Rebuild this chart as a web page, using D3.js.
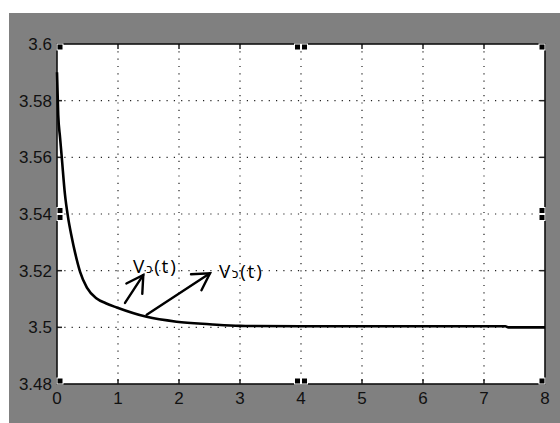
<!DOCTYPE html>
<html>
<head>
<meta charset="utf-8">
<script src="https://cdn.jsdelivr.net/npm/d3@7"></script>
<style>
  html, body { margin: 0; padding: 0; background: #ffffff; }
  svg { display: block; }
</style>
</head>
<body>
<svg id="chart" width="560" height="423"></svg>
<script>
// Voltage response V(t) settling to 3.5 V
const timeSec = [0, 0.02, 0.05, 0.08, 0.13, 0.18, 0.24, 0.30, 0.38, 0.49, 0.65, 0.80, 0.98, 1.47, 1.96, 2.5, 3.0, 4.0, 5.0, 6.0, 7.0, 7.35, 7.4, 8.0];
const voltage = [3.590, 3.575, 3.567, 3.5595, 3.547, 3.539, 3.532, 3.526, 3.5195, 3.5140, 3.5102, 3.5085, 3.5070, 3.5037, 3.502, 3.5011, 3.5005, 3.5004, 3.5004, 3.5004, 3.5004, 3.5004, 3.5, 3.5];

const xTicks = [0, 1, 2, 3, 4, 5, 6, 7, 8];
const yTicks = [3.48, 3.5, 3.52, 3.54, 3.56, 3.58, 3.6];
const yTickLabels = ["3.48", "3.5", "3.52", "3.54", "3.56", "3.58", "3.6"];

// Annotation arrows (data units): tail -> tip, and labels
const arrowTail = [[1.115, 3.5086], [1.47, 3.5044]];
const arrowTip = [[1.415, 3.5185], [2.508, 3.5191]];
const labelPos = [[1.246, 3.5192], [2.656, 3.5174]];
const labelText = ["V", "V"];

const svg = d3.select("#chart");

// figure background
svg.append("rect").attr("x", 9).attr("y", 13).attr("width", 551).attr("height", 410).attr("fill", "#808080");

const x = d3.scaleLinear().domain([0, 8]).range([57, 545]);
const y = d3.scaleLinear().domain([3.48, 3.6]).range([384, 44]);

// axes area
svg.append("rect").attr("x", x(0)).attr("y", y(3.6)).attr("width", x(8) - x(0)).attr("height", y(3.48) - y(3.6)).attr("fill", "#ffffff");

// dotted grid
const grid = svg.append("g").attr("stroke", "#222").attr("stroke-width", 1.2).attr("stroke-dasharray", "1.2,6.1");
grid.selectAll("line.gx").data(xTicks.slice(1, -1)).join("line")
  .attr("x1", d => x(d)).attr("x2", d => x(d)).attr("y1", y(3.6)).attr("y2", y(3.48));
grid.selectAll("line.gy").data(yTicks.slice(1, -1)).join("line")
  .attr("x1", x(0)).attr("x2", x(8)).attr("y1", d => y(d)).attr("y2", d => y(d));

// inward ticks on all four sides
const tickLen = 5;
const ticks = svg.append("g").attr("stroke", "#222").attr("stroke-width", 1.5);
xTicks.forEach(d => {
  ticks.append("line").attr("x1", x(d)).attr("x2", x(d)).attr("y1", y(3.48)).attr("y2", y(3.48) - tickLen);
  ticks.append("line").attr("x1", x(d)).attr("x2", x(d)).attr("y1", y(3.6)).attr("y2", y(3.6) + tickLen);
});
yTicks.forEach(d => {
  ticks.append("line").attr("x1", x(0)).attr("x2", x(0) + tickLen).attr("y1", y(d)).attr("y2", y(d));
  ticks.append("line").attr("x1", x(8)).attr("x2", x(8) - tickLen).attr("y1", y(d)).attr("y2", y(d));
});

// axes frame
svg.append("rect").attr("x", x(0)).attr("y", y(3.6)).attr("width", x(8) - x(0)).attr("height", y(3.48) - y(3.6))
  .attr("fill", "none").attr("stroke", "#111").attr("stroke-width", 1.6);

// curve
const pts = timeSec.map((t, i) => [t, voltage[i]]);
const line = d3.line().x(d => x(d[0])).y(d => y(d[1])).curve(d3.curveMonotoneX);
svg.append("path").datum(pts).attr("d", line).attr("fill", "none").attr("stroke", "#000").attr("stroke-width", 2.6);

// tick labels
const labelFont = "'Liberation Sans Narrow', 'Liberation Sans', Arial, sans-serif";
svg.append("g").selectAll("text").data(xTicks).join("text")
  .attr("x", d => x(d)).attr("y", y(3.48) + 20)
  .attr("text-anchor", "middle").style("font-family", labelFont).style("font-size", "17px").attr("fill", "#111")
  .text(d => d);
svg.append("g").selectAll("text").data(yTicks).join("text")
  .attr("x", x(0) - 5).attr("y", d => y(d) + 6)
  .attr("text-anchor", "end").style("font-family", labelFont).style("font-size", "17px").attr("fill", "#111")
  .text((d, i) => yTickLabels[i]);

// selection handles
const hs = 6;
const handles = [
  [x(0), y(3.6), 0, 0], [x(8) - hs, y(3.6), 0, 0],
  [x(0), y(3.48) - hs, 0, 0], [x(8) - hs, y(3.48) - hs, 0, 0],
  [(x(0) + x(8)) / 2 - hs - 0.5, y(3.6), 1, 0], [(x(0) + x(8)) / 2 - hs - 0.5, y(3.48) - hs, 1, 0],
  [x(0), (y(3.6) + y(3.48)) / 2 - hs - 0.5, 0, 1], [x(8) - hs, (y(3.6) + y(3.48)) / 2 - hs - 0.5, 0, 1]
];
handles.forEach(h => {
  const n = (h[2] || h[3]) ? 2 : 1;
  for (let k = 0; k < n; k++) {
    svg.append("rect")
      .attr("x", h[0] + (h[2] ? k * (hs + 1) : 0))
      .attr("y", h[1] + (h[3] ? k * (hs + 1) : 0))
      .attr("width", hs).attr("height", hs)
      .attr("fill", "#000").attr("stroke", "#fff").attr("stroke-width", 1);
  }
});

// annotation arrows with open heads
const ann = svg.append("g").attr("stroke", "#000").attr("stroke-width", 2.4).attr("fill", "none").attr("stroke-linecap", "round");
arrowTail.forEach((tail, i) => {
  const x0 = x(tail[0]), y0 = y(tail[1]);
  const x1 = x(arrowTip[i][0]), y1 = y(arrowTip[i][1]);
  ann.append("line").attr("x1", x0).attr("y1", y0).attr("x2", x1).attr("y2", y1);
  const back = Math.atan2(y0 - y1, x0 - x1);
  const len = 19, spread = Math.PI / 6;
  const arms = [back - spread, back + spread];
  const p = d3.path();
  p.moveTo(x1 + len * Math.cos(arms[0]), y1 + len * Math.sin(arms[0]));
  p.lineTo(x1, y1);
  p.lineTo(x1 + len * Math.cos(arms[1]), y1 + len * Math.sin(arms[1]));
  ann.append("path").attr("d", p.toString()).attr("stroke-linejoin", "miter");
});

// annotation labels
labelPos.forEach((p, i) => {
  const t = svg.append("text").attr("x", x(p[0])).attr("y", y(p[1]))
    .style("font-family", "'Open Sans', 'Noto Sans', sans-serif").style("font-size", "19px")
    .style("letter-spacing", "1.8px").attr("fill", "#000");
  t.append("tspan").style("font-size", "19px").text(labelText[i]);
  t.append("tspan").style("font-size", "13px").text("ɔ");
  t.append("tspan").style("font-size", "19px").text("(t)");
});
</script>
</body>
</html>
